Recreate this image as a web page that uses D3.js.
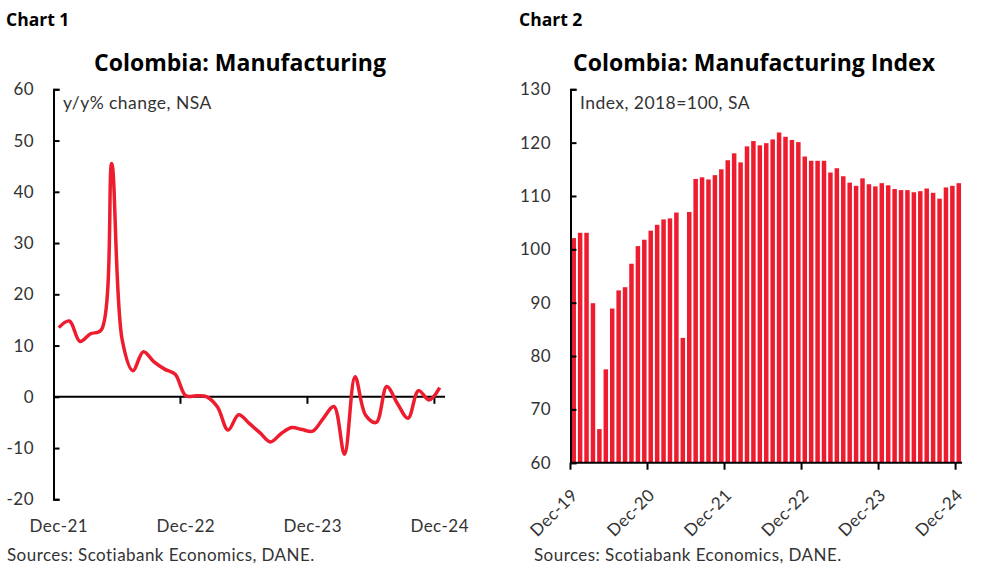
<!DOCTYPE html>
<html>
<head>
<meta charset="utf-8">
<script src="https://cdn.jsdelivr.net/npm/d3@7"></script>
<style>
  body { margin: 0; background: #fff; }
  text { font-family: Lato, sans-serif; fill: #333; letter-spacing: 0.45px; }
  .head { font-family: "Open Sans", sans-serif; font-weight: bold; fill: #000; letter-spacing: 0; }
</style>
</head>
<body>
<div id="chart"></div>
<script>
// Chart 1: y/y% change, monthly Dec-21 .. Dec-24
const yoyStart = new Date(2021, 11, 1);
const yoyValues = [13.5, 14.8, 10.8, 12.3, 13.0, 45.5, 11.0, 5.1, 8.8, 6.8, 5.4, 4.4,
  0.2, 0.2, 0.0, -2.0, -6.5, -3.5, -5.2, -7.0, -8.8, -7.2, -6.0, -6.4,
  -6.7, -4.2, -1.9, -11.2, 3.9, -3.6, -5.0, 2.0, -1.3, -4.2, 1.2, -0.6, 1.8];
const yoyTicks = [60, 50, 40, 30, 20, 10, 0, -10, -20];

// Chart 2: index 2018=100, monthly Dec-19 .. Dec-24
const idxStart = new Date(2019, 11, 1);
const idxValues = [102.1, 103.1, 103.1, 89.9, 66.3, 77.5, 88.9, 92.3, 92.9, 97.3, 100.6, 101.8,
  103.5, 104.6, 105.6, 105.8, 106.9, 83.4, 107.0, 113.2, 113.5, 113.1, 113.9, 115.0,
  116.7, 118.0, 116.3, 119.3, 120.3, 119.5, 119.9, 120.6, 121.9, 121.1, 120.5, 120.1,
  117.4, 116.6, 116.6, 116.6, 114.4, 115.2, 113.7, 112.5, 111.9, 113.3, 112.2, 111.8,
  112.4, 112.0, 111.3, 111.1, 111.1, 110.7, 110.9, 111.4, 110.6, 109.5, 111.6, 111.9, 112.4];
const idxTicks = [130, 120, 110, 100, 90, 80, 70, 60];

const red = "#ED1C2E";
const fmt = d3.timeFormat("%b-%y");
const months = (start, n) => d3.range(n).map(i => new Date(start.getFullYear(), start.getMonth() + i, 1));

const svg = d3.select("#chart").append("svg")
  .attr("width", 994).attr("height", 579);

// ---------- Chart 1 ----------
const m1 = months(yoyStart, yoyValues.length);
const data1 = m1.map((d, i) => ({ date: d, value: yoyValues[i] }));

const x1 = d3.scaleBand().domain(m1).range([53.5, 445]).padding(0);
const y1 = d3.scaleLinear().domain([-20, 60]).range([499.3, 89.3]);

svg.append("text").attr("class", "head").attr("x", 6).attr("y", 26)
  .style("font-size", "17.5px").text("Chart 1");
svg.append("text").attr("class", "head").attr("x", 240).attr("y", 71)
  .attr("text-anchor", "middle").style("font-size", "23px").text("Colombia: Manufacturing");

const g1 = svg.append("g");
g1.append("g")
  .attr("transform", "translate(53.5,0)")
  .call(d3.axisRight(y1).tickValues(yoyTicks).tickSize(6).tickFormat(""))
  .call(g => g.selectAll("path,line").attr("stroke", "#000").attr("stroke-width", 2));
g1.selectAll(".ylab1").data(yoyTicks).enter().append("text")
  .attr("x", 34).attr("y", d => y1(d)).attr("dy", "0.35em")
  .attr("text-anchor", "end").style("font-size", "17px").text(d => d);

// zero line with Dec ticks
const decs1 = m1.filter(d => d.getMonth() === 11);
g1.append("line").attr("x1", 53.5).attr("x2", 445).attr("y1", y1(0)).attr("y2", y1(0))
  .attr("stroke", "#000").attr("stroke-width", 2);
g1.selectAll(".xt1").data(decs1.slice(1)).enter().append("line")
  .attr("x1", d => x1(d)).attr("x2", d => x1(d))
  .attr("y1", y1(0)).attr("y2", y1(0) + 7)
  .attr("stroke", "#000").attr("stroke-width", 2);
g1.selectAll(".xl1").data(decs1).enter().append("text")
  .attr("x", d => x1(d) + x1.bandwidth() / 2).attr("y", 532)
  .attr("text-anchor", "middle").style("font-size", "17px").text(fmt);

const line1 = d3.line()
  .x(d => x1(d.date) + x1.bandwidth() / 2)
  .y(d => y1(d.value))
  .curve(d3.curveCatmullRom.alpha(0.5));
g1.append("path").datum(data1).attr("d", line1)
  .attr("fill", "none").attr("stroke", red).attr("stroke-width", 3.5)
  .attr("stroke-linejoin", "round");

g1.append("text").attr("x", 63).attr("y", 109).style("font-size", "17.5px").text("y/y% change, NSA");
g1.append("text").attr("x", 7).attr("y", 561).style("font-size", "17px")
  .text("Sources: Scotiabank Economics, DANE.");

// ---------- Chart 2 ----------
const m2 = months(idxStart, idxValues.length);
const data2 = m2.map((d, i) => ({ date: d, value: idxValues[i] }));

const x2 = d3.scaleBand().domain(m2).range([570.5, 962]).paddingInner(0.3).paddingOuter(0.15);
const y2 = d3.scaleLinear().domain([60, 130]).range([462.7, 89.3]);

svg.append("text").attr("class", "head").attr("x", 519).attr("y", 26)
  .style("font-size", "17.5px").text("Chart 2");
svg.append("text").attr("class", "head").attr("x", 754).attr("y", 71)
  .attr("text-anchor", "middle").style("font-size", "23px").text("Colombia: Manufacturing Index");

const g2 = svg.append("g");
g2.selectAll("rect").data(data2).enter().append("rect")
  .attr("x", d => x2(d.date)).attr("width", x2.bandwidth())
  .attr("y", d => y2(d.value)).attr("height", d => y2(60) - y2(d.value))
  .attr("fill", red);

g2.append("g")
  .attr("transform", "translate(570.5,0)")
  .call(d3.axisRight(y2).tickValues(idxTicks).tickSize(6).tickFormat(""))
  .call(g => g.selectAll("path,line").attr("stroke", "#000").attr("stroke-width", 2));
g2.selectAll(".ylab2").data(idxTicks).enter().append("text")
  .attr("x", 551).attr("y", d => y2(d)).attr("dy", "0.35em")
  .attr("text-anchor", "end").style("font-size", "17px").text(d => d);

const step2 = x2.step();
const decs2 = m2.filter(d => d.getMonth() === 11);
const tickX2 = d => x2(d) - step2 * 0.15;
g2.append("line").attr("x1", 570.5).attr("x2", 962).attr("y1", y2(60)).attr("y2", y2(60))
  .attr("stroke", "#000").attr("stroke-width", 2);
g2.selectAll(".xt2").data(decs2).enter().append("line")
  .attr("x1", tickX2).attr("x2", tickX2)
  .attr("y1", y2(60)).attr("y2", y2(60) + 7)
  .attr("stroke", "#000").attr("stroke-width", 2);
g2.selectAll(".xl2").data(decs2).enter().append("text")
  .attr("transform", d => "translate(" + (tickX2(d) + 4) + "," + 492 + ") rotate(-45)")
  .attr("text-anchor", "end").attr("dy", "0.35em")
  .style("font-size", "17px").text(fmt);

g2.append("text").attr("x", 580).attr("y", 109).style("font-size", "17.5px").text("Index, 2018=100, SA");
g2.append("text").attr("x", 534).attr("y", 561).style("font-size", "17px")
  .text("Sources: Scotiabank Economics, DANE.");
</script>
</body>
</html>
